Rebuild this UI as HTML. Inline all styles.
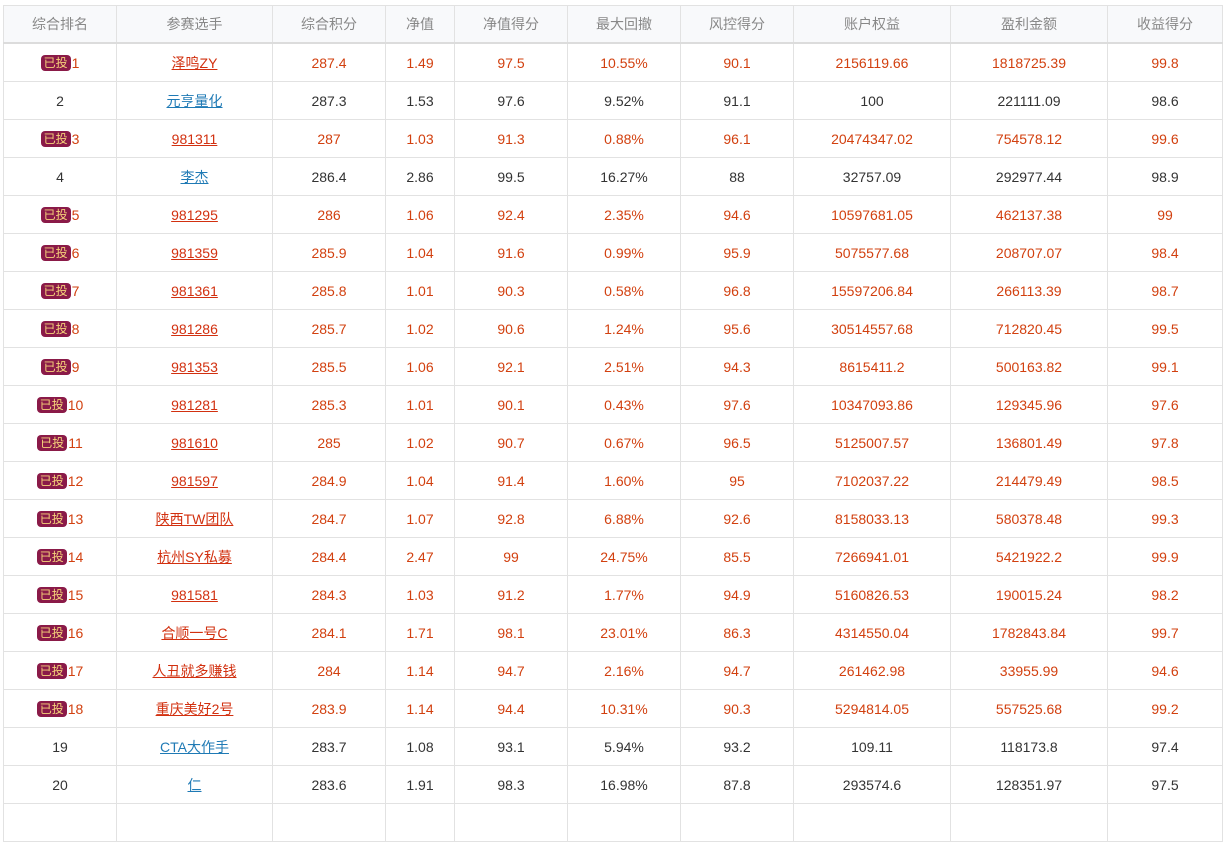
<!DOCTYPE html>
<html><head><meta charset="utf-8"><style>
html,body{margin:0;background:#fff;font-family:"Liberation Sans","Noto Sans CJK SC",sans-serif;font-size:14px;width:1225px;height:809px;overflow:hidden;}
table{position:absolute;left:3px;top:5px;border-collapse:collapse;table-layout:fixed;width:1219px;}
th,td{border:1px solid #e2e2e2;text-align:center;padding:0;height:37px;}
th{background:#f8f9fb;color:#888;font-weight:normal;border-bottom:2px solid #dcdcdc;height:36px;}
td{color:#333;}
tr.r td{color:#d2400f;}
a{text-decoration:underline;}
tr.r a{color:#d2300f;}
tr.b a{color:#1f7ab5;}
.badge{display:inline-block;background:#8a1a48;color:#f6d37a;font-size:12px;line-height:16px;padding:0 3px;border-radius:4px;vertical-align:1px;margin-right:1px;}
</style></head><body>
<table>
<colgroup><col style="width:113px"><col style="width:156px"><col style="width:113px"><col style="width:69px"><col style="width:113px"><col style="width:113px"><col style="width:113px"><col style="width:157px"><col style="width:157px"><col style="width:115px"></colgroup>
<thead><tr><th>综合排名</th><th>参赛选手</th><th>综合积分</th><th>净值</th><th>净值得分</th><th>最大回撤</th><th>风控得分</th><th>账户权益</th><th>盈利金额</th><th>收益得分</th></tr></thead>
<tbody id="tb"></tbody></table>
<script>
const rows=[
[1,1,"泽鸣ZY","287.4","1.49","97.5","10.55%","90.1","2156119.66","1818725.39","99.8"],
[0,2,"元亨量化","287.3","1.53","97.6","9.52%","91.1","100","221111.09","98.6"],
[1,3,"981311","287","1.03","91.3","0.88%","96.1","20474347.02","754578.12","99.6"],
[0,4,"李杰","286.4","2.86","99.5","16.27%","88","32757.09","292977.44","98.9"],
[1,5,"981295","286","1.06","92.4","2.35%","94.6","10597681.05","462137.38","99"],
[1,6,"981359","285.9","1.04","91.6","0.99%","95.9","5075577.68","208707.07","98.4"],
[1,7,"981361","285.8","1.01","90.3","0.58%","96.8","15597206.84","266113.39","98.7"],
[1,8,"981286","285.7","1.02","90.6","1.24%","95.6","30514557.68","712820.45","99.5"],
[1,9,"981353","285.5","1.06","92.1","2.51%","94.3","8615411.2","500163.82","99.1"],
[1,10,"981281","285.3","1.01","90.1","0.43%","97.6","10347093.86","129345.96","97.6"],
[1,11,"981610","285","1.02","90.7","0.67%","96.5","5125007.57","136801.49","97.8"],
[1,12,"981597","284.9","1.04","91.4","1.60%","95","7102037.22","214479.49","98.5"],
[1,13,"陕西TW团队","284.7","1.07","92.8","6.88%","92.6","8158033.13","580378.48","99.3"],
[1,14,"杭州SY私募","284.4","2.47","99","24.75%","85.5","7266941.01","5421922.2","99.9"],
[1,15,"981581","284.3","1.03","91.2","1.77%","94.9","5160826.53","190015.24","98.2"],
[1,16,"合顺一号C","284.1","1.71","98.1","23.01%","86.3","4314550.04","1782843.84","99.7"],
[1,17,"人丑就多赚钱","284","1.14","94.7","2.16%","94.7","261462.98","33955.99","94.6"],
[1,18,"重庆美好2号","283.9","1.14","94.4","10.31%","90.3","5294814.05","557525.68","99.2"],
[0,19,"CTA大作手","283.7","1.08","93.1","5.94%","93.2","109.11","118173.8","97.4"],
[0,20,"仁","283.6","1.91","98.3","16.98%","87.8","293574.6","128351.97","97.5"],
[0,"","","","","","","","","",""]];
const tb=document.getElementById('tb');
rows.forEach(r=>{
 const tr=document.createElement('tr');
 
 
 tr.className=r[0]?'r':'b';
 let h='<td>'+(r[0]?'<span class="badge">已投</span>':'')+r[1]+'</td>';
 h+='<td>'+(r[2]?'<a>'+r[2]+'</a>':'')+'</td>';
 for(let i=3;i<11;i++)h+='<td>'+r[i]+'</td>';
 tr.innerHTML=h;tb.appendChild(tr);
});
</script></body></html>
